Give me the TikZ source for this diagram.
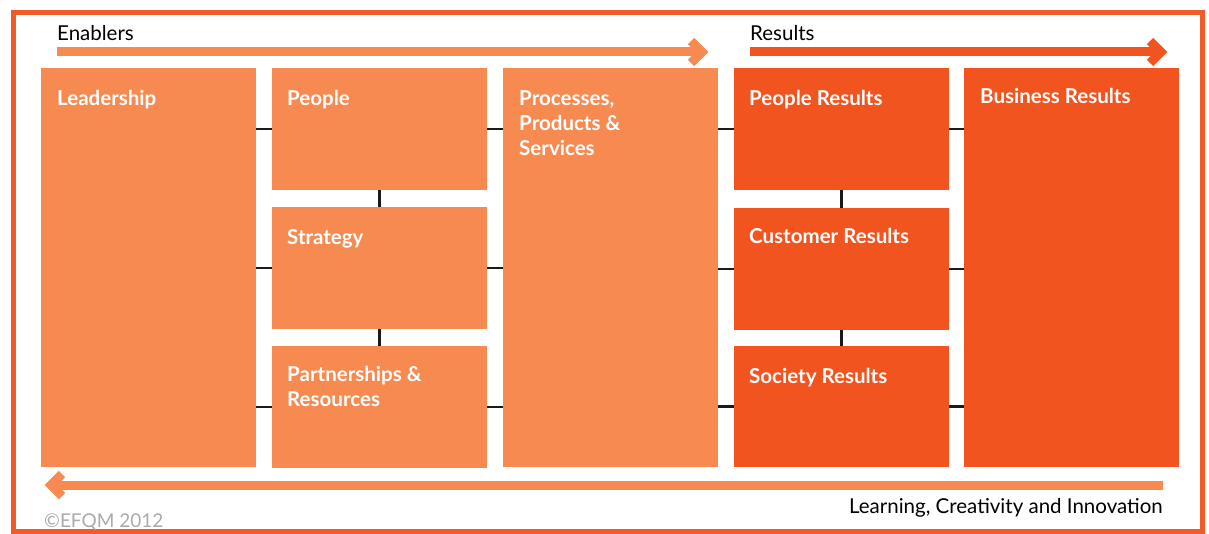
\documentclass[tikz,border=0pt]{standalone}
\usepackage{fontspec}
\setmainfont{Lato}
\definecolor{enabC}{HTML}{F68A50}
\definecolor{resC}{HTML}{F2541F}
\definecolor{frameC}{HTML}{F15A29}
\definecolor{linkC}{HTML}{1A1A1A}
\definecolor{copyC}{HTML}{ABABAB}
\begin{document}
\begin{tikzpicture}[x=1pt,y=-1pt,
  enab/.style={rectangle, fill=enabC, draw=none, minimum width=215pt, inner sep=0pt, outer sep=0pt, anchor=north west},
  resb/.style={enab, fill=resC},
  lbl/.style={text=white, font=\fontsize{20.5}{25}\selectfont\bfseries, anchor=base west, inner sep=0pt},
  head/.style={text=black, font=\fontsize{20.5}{24}\selectfont, inner sep=0pt},
  link/.style={line width=2.5pt, draw=linkC},
  bar/.style={line width=9pt, line join=miter},
]
\useasboundingbox (0,0) rectangle (1209,534);
\fill[white] (0,0) rectangle (1209,534);
\draw[frameC, line width=5pt] (13,13) rectangle (1202,531);

% boxes
\node[enab, minimum height=399pt] (lead) at (41,68) {};
\node[enab, minimum height=122pt] (peop) at (272,68) {};
\node[enab, minimum height=122pt] (strat) at (272,207) {};
\node[enab, minimum height=122pt] (part) at (272,346) {};
\node[enab, minimum height=399pt] (proc) at (503,68) {};
\node[resb, minimum height=122pt] (pres) at (734,68) {};
\node[resb, minimum height=122pt] (cres) at (734,208) {};
\node[resb, minimum height=121pt] (sres) at (734,346) {};
\node[resb, minimum height=399pt] (bres) at (964,68) {};

% labels
\node[lbl] (tlead) at ([shift={(16,38)}]lead.north west) {Leadership};
\node[lbl] (tpeop) at ([shift={(15,38)}]peop.north west) {People};
\node[lbl] (tstrat) at ([shift={(15,38)}]strat.north west) {Strategy};
\node[lbl] (tpart) at ([shift={(15,35)}]part.north west) {\begin{tabular}[t]{@{}l@{}}Partnerships \&\\Resources\end{tabular}};
\node[lbl] (tproc) at ([shift={(16,38)}]proc.north west) {\begin{tabular}[t]{@{}l@{}}Processes,\\Products \&\\Services\end{tabular}};
\node[lbl] (tpres) at ([shift={(15,38)}]pres.north west) {People Results};
\node[lbl] (tcres) at ([shift={(15,36)}]cres.north west) {Customer Results};
\node[lbl] (tsres) at ([shift={(15,37)}]sres.north west) {Society Results};
\node[lbl] (tbres) at ([shift={(16,36)}]bres.north west) {Business Results};

% connectors
\draw[link] (peop.west) -- (peop.west -| lead.east);
\draw[link] (strat.west) -- (strat.west -| lead.east);
\draw[link] (part.west) -- (part.west -| lead.east);
\draw[link] (peop.east) -- (peop.east -| proc.west);
\draw[link] (strat.east) -- (strat.east -| proc.west);
\draw[link] (part.east) -- (part.east -| proc.west);
\draw[link] (pres.west) -- (pres.west -| proc.east);
\draw[link] (cres.west) -- (cres.west -| proc.east);
\draw[link] (sres.west) -- (sres.west -| proc.east);
\draw[link] (pres.east) -- (pres.east -| bres.west);
\draw[link] (cres.east) -- (cres.east -| bres.west);
\draw[link] (sres.east) -- (sres.east -| bres.west);
\draw[link] (peop.south) -- (strat.north);
\draw[link] (strat.south) -- (part.north);
\draw[link] (pres.south) -- (cres.north);
\draw[link] (cres.south) -- (sres.north);

% arrows
\coordinate (ea) at (57,52);
\coordinate (eb) at (702,52);
\draw[bar, enabC] (ea) -- (eb);
\draw[bar, enabC] (eb) ++(-11,-11) -- (eb) -- ++(-11,11);
\coordinate (ra) at (750,52);
\coordinate (rb) at (1161,52);
\draw[bar, resC] (ra) -- (rb);
\draw[bar, resC] (rb) ++(-11,-11) -- (rb) -- ++(-11,11);
\coordinate (la) at (1163,485);
\coordinate (lb) at (51,485);
\draw[bar, enabC] (la) -- (lb);
\draw[bar, enabC] (lb) ++(11,-11) -- (lb) -- ++(11,11);

% texts
\node[head, anchor=base west] (tenab) at (57,41) {Enablers};
\node[head, anchor=base west] (tres) at (750,41) {Results};
\node[head, anchor=base east] (tlearn) at (1163,513) {Learning, Creativity and Innovation};
\node[inner sep=0pt, anchor=base west, text=copyC, font=\fontsize{19}{22}\selectfont] (tcopy) at (44,527) {©EFQM 2012};
\end{tikzpicture}
\end{document}
